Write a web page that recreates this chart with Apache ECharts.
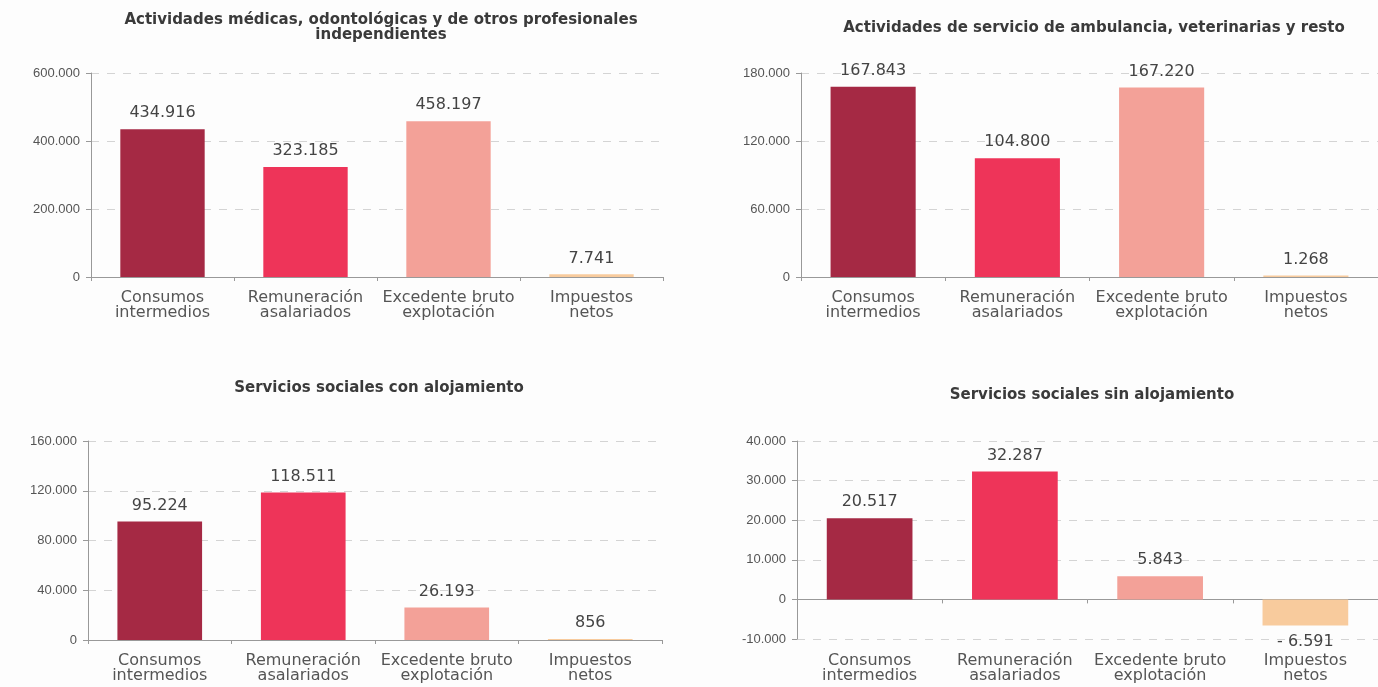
<!DOCTYPE html>
<html>
<head>
<meta charset="utf-8">
<script src="https://cdn.jsdelivr.net/npm/echarts@6/dist/echarts.min.js"></script>
<style>
  html, body { margin: 0; padding: 0; background: #fdfdfd; }
  #main { width: 1378px; height: 687px; }
</style>
</head>
<body>
<div id="main"></div>
<script>
// categorias del eje x (iguales en los cuatro paneles)
var categories = ['Consumos\nintermedios', 'Remuneración\nasalariados', 'Excedente bruto\nexplotación', 'Impuestos\nnetos'];
var barColors = ['#a52944', '#ee3459', '#f3a198', '#f8cb9d'];

var titles = [
    'Actividades médicas, odontológicas y de otros profesionales\nindependientes',
    'Actividades de servicio de ambulancia, veterinarias y resto',
    'Servicios sociales con alojamiento',
    'Servicios sociales sin alojamiento'
];

// valores (miles de euros)
var medicas = [434916, 323185, 458197, 7741];
var ambulancia = [167843, 104800, 167220, 1268];
var conAlojamiento = [95224, 118511, 26193, 856];
var sinAlojamiento = [20517, 32287, 5843, -6591];

// escalas del eje y: [min, max, intervalo]
var yScales = [
    [0, 600000, 200000],
    [0, 180000, 60000],
    [0, 160000, 40000],
    [-10000, 40000, 10000]
];

var panels = [medicas, ambulancia, conAlojamiento, sinAlojamiento];

// posiciones de cada panel
var grids = [
    { left: 91, top: 73, width: 572, height: 204 },
    { left: 801, top: 73, width: 577, height: 204 },
    { left: 88, top: 441, width: 574, height: 199 },
    { left: 797, top: 441, width: 581, height: 198 }
];
var titlePos = [[381, 13], [1094, 21], [379, 381], [1092, 388]];

function miles(v) {
    return String(Math.abs(v)).replace(/\B(?=(\d{3})+(?!\d))/g, '.');
}

var option = {
    backgroundColor: '#fdfdfd',
    animation: false,
    title: [],
    grid: [],
    xAxis: [],
    yAxis: [],
    series: []
};

var gray = '#555';

for (var i = 0; i < 4; i++) {
    option.title.push({
        text: titles[i],
        left: titlePos[i][0],
        top: titlePos[i][1],
        textAlign: 'center',
        padding: 0,
        textStyle: {
            fontFamily: 'DejaVu Sans',
            fontSize: 15,
            fontWeight: 'bold',
            color: '#3a3a3a',
            lineHeight: 15
        }
    });
    option.grid.push(grids[i]);

    var hasNeg = yScales[i][0] < 0;

    // eje de categorias con las etiquetas abajo
    option.xAxis.push({
        type: 'category',
        gridIndex: i,
        data: categories,
        position: 'bottom',
        axisLine: { show: !hasNeg, onZero: false, lineStyle: { color: '#999' } },
        axisTick: { show: !hasNeg, length: 4, lineStyle: { color: '#999' } },
        axisLabel: {
            margin: hasNeg ? 14 : 13,
            fontFamily: 'DejaVu Sans',
            fontSize: 16,
            lineHeight: 15,
            color: gray,
            interval: 0
        }
    });
    option.yAxis.push({
        type: 'value',
        gridIndex: i,
        min: yScales[i][0],
        max: yScales[i][1],
        interval: yScales[i][2],
        axisLine: { show: true, lineStyle: { color: '#999' } },
        axisTick: { show: true, length: 5, lineStyle: { color: '#999' } },
        axisLabel: {
            margin: 11,
            fontFamily: 'Liberation Sans',
            fontSize: 13,
            color: gray,
            formatter: function (v) { return (v < 0 ? '-' : '') + miles(v); }
        },
        splitLine: { show: true, lineStyle: { color: '#d4d4d4', type: [8, 8] } }
    });

    var data = panels[i].map(function (v, k) {
        var item = { value: v, itemStyle: { color: barColors[k] } };
        if (v < 0) item.label = { position: 'bottom' };
        return item;
    });

    option.series.push({
        type: 'bar',
        xAxisIndex: option.xAxis.length - 1,
        yAxisIndex: i,
        barCategoryGap: '41%',
        data: data,
        label: {
            show: true,
            position: 'top',
            distance: 8,
            fontFamily: 'DejaVu Sans',
            fontSize: 16,
            color: '#444',
            formatter: function (p) { return (p.value < 0 ? '- ' : '') + miles(p.value); }
        }
    });

    if (hasNeg) {
        // linea del cero con marcas, sin etiquetas
        option.xAxis.push({
            type: 'category',
            gridIndex: i,
            data: categories,
            position: 'bottom',
            axisLine: { show: true, onZero: true, lineStyle: { color: '#999' } },
            axisTick: { show: true, length: 4, lineStyle: { color: '#999' } },
            axisLabel: { show: false },
            splitLine: { show: false }
        });
    }
}

var chart = echarts.init(document.getElementById('main'));
chart.setOption(option);
</script>
</body>
</html>
